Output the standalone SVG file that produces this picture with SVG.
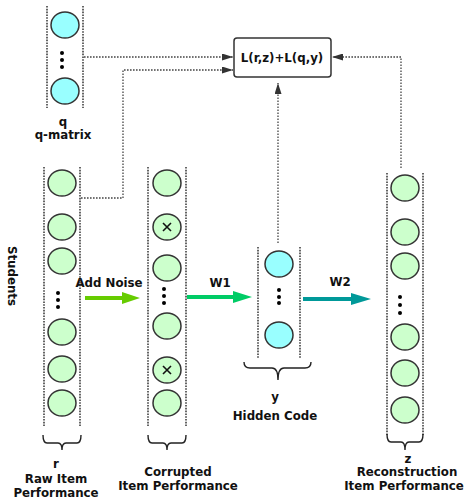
<svg xmlns="http://www.w3.org/2000/svg" width="466" height="500" viewBox="0 0 466 500">
<style>
text{font-family:"DejaVu Sans","Verdana",sans-serif;font-weight:bold;fill:#111;text-anchor:middle;font-size:11.8px}
.col{stroke:#333;stroke-width:1.5;stroke-dasharray:1.6 1.2;fill:none}
.g{fill:#ccffcc;stroke:#333;stroke-width:1.5}
.c{fill:#99ffff;stroke:#333;stroke-width:1.5}
.dot{fill:#000}
.conn{stroke:#444;stroke-width:1.3;stroke-dasharray:1.6 1.4;fill:none}
.brace{stroke:#222;stroke-width:1.4;fill:none}
.x{stroke:#111;stroke-width:1.6}
</style>
<defs>
<marker id="ah" markerWidth="11" markerHeight="7" refX="11" refY="3.5" orient="auto" markerUnits="userSpaceOnUse">
<path d="M0,0 L11,3.5 L0,7 Z" fill="#333"/>
</marker>
</defs>

<g id="connectors">
<path class="conn" d="M84,57 H233" marker-end="url(#ah)"/>
<path class="conn" d="M81,198 H123 V70 H233" marker-end="url(#ah)"/>
<path class="conn" d="M278,243 V83" marker-end="url(#ah)"/>
<path class="conn" d="M401,168 V57 H332" marker-end="url(#ah)"/>
<g id="addnoise">
<path d="M85,296 H122 V292 L140,298 L122,304 V300 H85 Z" fill="#66cc00"/>
<text x="109" y="287" font-size="10">Add Noise</text>
</g>
<g id="w1">
<path d="M187,295 H233 V291 L252,297 L233,303 V299 H187 Z" fill="#00cc66"/>
<text x="220" y="287" font-size="10.5">W1</text>
</g>
<g id="w2">
<path d="M303,297 H351 V293 L371,299 L351,305 V301 H303 Z" fill="#009999"/>
<text x="340" y="286" font-size="10.5">W2</text>
</g>
</g>

<g id="loss">
<rect x="234" y="38" width="97" height="39" rx="3" fill="#fff" stroke="#333" stroke-width="1.5"/>
<text x="282" y="62" font-size="10.5">L(r,z)+L(q,y)</text>
</g>

<g id="q">
<line class="col" x1="47" y1="6" x2="47" y2="108"/>
<line class="col" x1="83" y1="6" x2="83" y2="108"/>
<ellipse class="c" cx="65" cy="25" rx="14" ry="13"/>
<ellipse class="c" cx="65" cy="91" rx="14" ry="13"/>
<circle class="dot" cx="62" cy="53" r="2"/>
<circle class="dot" cx="62" cy="60" r="2"/>
<circle class="dot" cx="62" cy="67" r="2"/>
<text x="63" y="126">q</text>
<text x="63" y="139">q-matrix</text>
</g>

<g id="r">
<line class="col" x1="44" y1="167" x2="44" y2="426"/>
<line class="col" x1="80" y1="167" x2="80" y2="426"/>
<ellipse class="g" cx="62" cy="183" rx="14" ry="13"/>
<ellipse class="g" cx="62" cy="227" rx="14" ry="13"/>
<ellipse class="g" cx="62" cy="261" rx="14" ry="13"/>
<circle class="dot" cx="58" cy="293" r="2"/>
<circle class="dot" cx="58" cy="300" r="2"/>
<circle class="dot" cx="58" cy="307" r="2"/>
<ellipse class="g" cx="62" cy="332" rx="14" ry="13"/>
<ellipse class="g" cx="62" cy="369" rx="14" ry="13"/>
<ellipse class="g" cx="62" cy="403" rx="14" ry="13"/>
<path class="brace" d="M43,435 Q43,443 47,443 L58,443 Q62,443 62,450 Q62,443 66,443 L77,443 Q81,443 81,435"/>
<text x="56" y="468">r</text>
<text x="56" y="483">Raw Item</text>
<text x="56" y="497">Performance</text>
</g>

<g id="corrupted">
<line class="col" x1="148" y1="167" x2="148" y2="426"/>
<line class="col" x1="186" y1="167" x2="186" y2="426"/>
<ellipse class="g" cx="167" cy="183" rx="14" ry="13"/>
<ellipse class="g" cx="167" cy="227" rx="14" ry="13"/>
<path class="x" d="M163,223 L171,231 M171,223 L163,231"/>
<ellipse class="g" cx="167" cy="268" rx="14" ry="13"/>
<circle class="dot" cx="164" cy="289" r="2"/>
<circle class="dot" cx="164" cy="296" r="2"/>
<circle class="dot" cx="164" cy="303" r="2"/>
<ellipse class="g" cx="167" cy="326" rx="14" ry="13"/>
<ellipse class="g" cx="167" cy="370" rx="14" ry="13"/>
<path class="x" d="M163,366 L171,374 M171,366 L163,374"/>
<ellipse class="g" cx="167" cy="403" rx="14" ry="13"/>
<path class="brace" d="M148,435 Q148,443 152,443 L163,443 Q167,443 167,450 Q167,443 171,443 L182,443 Q186,443 186,435"/>
<text x="178" y="476">Corrupted</text>
<text x="178" y="490">Item Performance</text>
</g>

<g id="hidden">
<line class="col" x1="258" y1="247" x2="258" y2="359"/>
<line class="col" x1="300" y1="247" x2="300" y2="359"/>
<ellipse class="c" cx="279" cy="264" rx="14" ry="13"/>
<circle class="dot" cx="279" cy="290" r="2"/>
<circle class="dot" cx="279" cy="297" r="2"/>
<circle class="dot" cx="279" cy="303" r="2"/>
<ellipse class="c" cx="279" cy="335" rx="14" ry="13"/>
<path class="brace" d="M244,362 Q244,368 250,368 L272,368 Q278,368 278,380 Q278,368 284,368 L305,368 Q311,368 311,362"/>
<text x="275" y="401">y</text>
<text x="275" y="420">Hidden Code</text>
</g>

<g id="z">
<line class="col" x1="387" y1="173" x2="387" y2="435"/>
<line class="col" x1="423" y1="173" x2="423" y2="435"/>
<ellipse class="g" cx="405" cy="188" rx="14" ry="13"/>
<ellipse class="g" cx="405" cy="232" rx="14" ry="13"/>
<ellipse class="g" cx="405" cy="266" rx="14" ry="13"/>
<circle class="dot" cx="400" cy="297" r="2"/>
<circle class="dot" cx="400" cy="305" r="2"/>
<circle class="dot" cx="400" cy="313" r="2"/>
<ellipse class="g" cx="405" cy="337" rx="14" ry="13"/>
<ellipse class="g" cx="405" cy="373" rx="14" ry="13"/>
<ellipse class="g" cx="405" cy="410" rx="14" ry="13"/>
<path class="brace" d="M387,434 Q387,442 391,442 L401,442 Q405,442 405,450 Q405,442 409,442 L419,442 Q423,442 423,434"/>
<text x="408" y="463">z</text>
<text x="407" y="476">Reconstruction</text>
<text x="404" y="490" font-size="10.8">Item Performance</text>
</g>

<g id="students">
<text transform="translate(8,276) rotate(90)">Students</text>
</g>
</svg>
